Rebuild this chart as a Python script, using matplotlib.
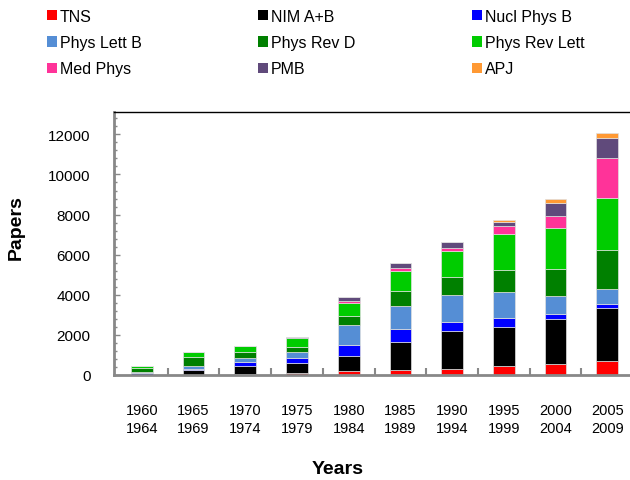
import numpy as np
import matplotlib
matplotlib.use("Agg")
import matplotlib.pyplot as plt
from matplotlib.patches import Patch
from matplotlib.ticker import MultipleLocator

plt.rcParams['font.family'] = ['Liberation Sans', 'DejaVu Sans']

periods = ['1960\n1964', '1965\n1969', '1970\n1974', '1975\n1979', '1980\n1984',
           '1985\n1989', '1990\n1994', '1995\n1999', '2000\n2004', '2005\n2009']
journals = ['TNS', 'NIM A+B', 'Nucl Phys B', 'Phys Lett B', 'Phys Rev D',
            'Phys Rev Lett', 'Med Phys', 'PMB', 'APJ']
colors = ['#ff0000', '#000000', '#0000ff', '#558ed5', '#008000',
          '#00cc00', '#ff3399', '#604a7b', '#ff9933']

# papers per period
tns      = [0, 0, 50, 115, 220, 225, 275, 425, 540, 675]
nim      = [20, 260, 385, 480, 720, 1435, 1900, 1985, 2270, 2685]
nuclb    = [65, 50, 200, 270, 550, 615, 465, 415, 230, 200]
physlb   = [50, 115, 200, 265, 1000, 1150, 1350, 1315, 920, 715]
physrevd = [220, 465, 315, 265, 450, 765, 885, 1085, 1330, 1965]
prl      = [70, 270, 300, 450, 675, 1000, 1285, 1800, 2020, 2570]
medphys  = [0, 0, 0, 0, 55, 135, 165, 385, 630, 2000]
pmb      = [0, 0, 0, 30, 200, 250, 300, 200, 635, 1015]
apj      = [0, 0, 0, 0, 0, 0, 0, 115, 200, 250]
series = [tns, nim, nuclb, physlb, physrevd, prl, medphys, pmb, apj]

fig = plt.figure(figsize=(6.3, 4.81), dpi=100)
ax = fig.add_axes([114/630, 105/481, 516/630, 262.7/481])

x = np.arange(len(periods))
bottom = np.zeros(len(periods))
for vals, col in zip(series, colors):
    ax.bar(x, vals, 0.42, bottom=bottom, color=col, edgecolor='#e0e0e0', linewidth=0.5)
    bottom += np.array(vals)

ax.set_xlim(-0.54, 9.44)
ax.set_ylim(0, 13100)
ax.set_xticks(x)
ax.set_xticklabels(periods, fontsize=10.5, linespacing=1.35)
ax.set_xticks(x[:-1] + 0.5, minor=True)
ax.tick_params(axis='x', which='major', length=0, pad=20)
ax.tick_params(axis='x', which='minor', length=5, width=1.5, direction='in', color='#888888')
ax.yaxis.set_major_locator(MultipleLocator(2000))
ax.yaxis.set_minor_locator(MultipleLocator(400))
ax.tick_params(axis='y', which='major', length=4, width=1, direction='in', color='#888888',
               labelsize=11, pad=17)
ax.tick_params(axis='y', which='minor', length=2.5, width=1, direction='in', color='#888888')

for s in ['left', 'bottom']:
    ax.spines[s].set_color('#888888')
    ax.spines[s].set_linewidth(2)
ax.spines['right'].set_visible(False)
ax.spines['top'].set_linewidth(1)

fig.text(16/630, 1 - 228/481, 'Papers', rotation=90, ha='center', va='center',
         fontsize=14, fontweight='bold')
fig.text(338/630, 1 - 470/481, 'Years', ha='center', va='center',
         fontsize=14, fontweight='bold')

# legend fills column by column, so reorder to read across rows
order = [0, 3, 6, 1, 4, 7, 2, 5, 8]
handles = [Patch(facecolor=colors[i], edgecolor='none') for i in order]
labels = [journals[i] for i in order]
fig.legend(handles, labels, loc='upper left', bbox_to_anchor=(47/630, 1 - 10/481),
           ncol=3, frameon=False, fontsize=11.5, handlelength=0.6, handleheight=0.6,
           handletextpad=0.2, labelspacing=0.7, columnspacing=7.3, borderpad=0,
           borderaxespad=0)

fig.savefig('out.png', dpi=100)
